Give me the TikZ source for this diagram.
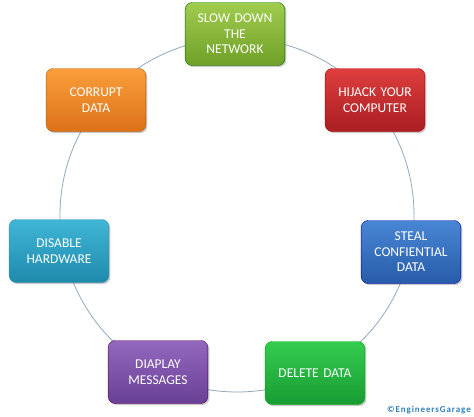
\documentclass[tikz,border=0pt]{standalone}
\usepackage{fontspec}
\setmainfont{Carlito}
\usetikzlibrary{shadows}
\definecolor{ring}{HTML}{93A9BC}
\definecolor{wm}{HTML}{2E7FC0}
\tikzset{
  box/.style={rounded corners=7pt, minimum width=97pt, minimum height=63pt,
    text width=93pt, align=center, text=white, font=\fontsize{13.5}{15.5}\selectfont,
    drop shadow={shadow xshift=1.5pt, shadow yshift=-1.5pt, opacity=0.35, fill=black!60},
    draw=#1!70!black, line width=0.4pt},
}
\begin{document}
\begin{tikzpicture}[x=1pt,y=-1pt]
\fill[white] (0,0) rectangle (474,416);
\useasboundingbox (0,0) rectangle (474,416);
\coordinate (c) at (237,215);
\draw[ring, line width=0.8pt] (c) circle [radius=177pt];
\node[box=green!60!black, top color={rgb,255:red,160;green,204;blue,78}, bottom color={rgb,255:red,112;green,160;blue,40}] (slow) at (235,34) {SLOW DOWN\\THE\\NETWORK};
\node[box=red, top color={rgb,255:red,222;green,62;blue,62}, bottom color={rgb,255:red,170;green,30;blue,34}] (hijack) at (375,100) {HIJACK YOUR\\COMPUTER};
\node[box=blue, top color={rgb,255:red,72;green,134;blue,212}, bottom color={rgb,255:red,40;green,92;blue,170}] (steal) at (411,252) {STEAL\\CONFIENTIAL\\DATA};
\node[box=green, top color={rgb,255:red,52;green,204;blue,80}, bottom color={rgb,255:red,24;green,156;blue,50}] (delete) at (315,373) {DELETE DATA};
\node[box=violet, top color={rgb,255:red,146;green,104;blue,190}, bottom color={rgb,255:red,104;green,64;blue,150}] (display) at (158,372) {DIAPLAY\\MESSAGES};
\node[box=cyan, top color={rgb,255:red,64;green,182;blue,214}, bottom color={rgb,255:red,30;green,138;blue,172}] (disable) at (59,251) {DISABLE\\HARDWARE};
\node[box=orange, top color={rgb,255:red,250;green,158;blue,60}, bottom color={rgb,255:red,220;green,114;blue,24}] (corrupt) at (96,100) {CORRUPT\\DATA};
\node[anchor=east, text=wm, font=\fontsize{9}{10}\selectfont\bfseries\addfontfeatures{LetterSpace=10}, inner sep=0pt] (wmark) at (471,410) {©EngineersGarage};
\end{tikzpicture}
\end{document}
